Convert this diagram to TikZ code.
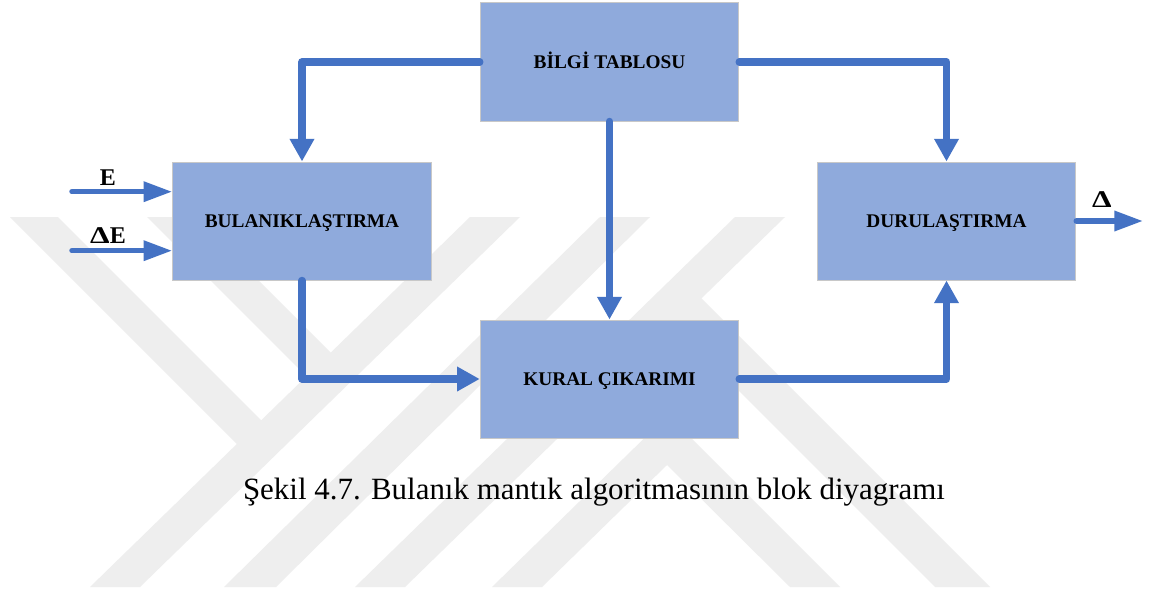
\documentclass[tikz,border=0pt]{standalone}
\usepackage{fontspec}
\usepackage{graphicx}
\setmainfont{Liberation Serif}
\usetikzlibrary{arrows.meta}

\definecolor{boxfill}{RGB}{143,170,220}
\definecolor{boxline}{RGB}{200,200,200}
\definecolor{flow}{RGB}{68,114,196}
\definecolor{wmark}{RGB}{238,238,238}

% a wide capital delta
\newcommand{\wdelta}{\scalebox{1.3}[1]{Δ}}

\begin{document}
\begin{tikzpicture}[x=0.75pt,y=-0.75pt,
  blockbox/.style={draw=boxline, line width=0.75pt, fill=boxfill,
    minimum width=193.9pt, minimum height=88.5pt, inner sep=0pt,
    font=\fontsize{14.5pt}{17pt}\selectfont\bfseries,
    text height=9.6pt, text depth=0pt},
  thickflow/.style={draw=flow, line width=5.6pt, line cap=round, line join=round,
    -{Triangle[length=17pt, width=17.5pt]}},
  thinflow/.style={draw=flow, line width=4.1pt, line cap=round, line join=round,
    -{Triangle[length=21.5pt, width=14.5pt]}},
  siglabel/.style={font=\fontsize{18pt}{21pt}\selectfont\bfseries, inner sep=0pt, anchor=base},
  caption/.style={font=\fontsize{23.2pt}{27pt}\selectfont, inner sep=0pt, anchor=base}
]
\useasboundingbox (0,0) rectangle (1151,592);
\fill[white] (0,0) rectangle (1151,592);

% faint background stripes
\begin{scope}[wmark]
  \fill (90,587) -- (140,587) -- (520,217) -- (470,217) -- cycle;
  \fill (224,587) -- (276,587) -- (650,217) -- (600,217) -- cycle;
  \fill (355,587) -- (405,587) -- (785,217) -- (735,217) -- cycle;
  \fill (10,217) -- (58,217) -- (280,439) -- (256,463) -- cycle;
  \fill (147,217) -- (195,217) -- (348,370) -- (320,390) -- cycle;
  \fill (492,587) -- (668,415) -- (840,587) -- (790,587) -- (667,465) -- (542,587) -- cycle;
  \fill (690,287) -- (990,587) -- (935,587) -- (663,315) -- cycle;
\end{scope}

% blocks
\node[blockbox] (bilgi) at (609.5,62)  {BİLGİ TABLOSU};
\node[blockbox] (bulan) at (302,221)   {BULANIKLAŞTIRMA};
\node[blockbox] (duru)  at (946.5,221) {DURULAŞTIRMA};
\node[blockbox] (kural) at (609.5,379) {KURAL ÇIKARIMI};

% signal flow between blocks
\draw[thickflow] (bilgi.west) -| (bulan.north);
\draw[thickflow] (bilgi.east) -| (duru.north);
\draw[thickflow] (bilgi.south) -- (kural.north);
\draw[thickflow] (bulan.south) |- (kural.west);
\draw[thickflow] (kural.east) -| (duru.south);

% inputs and output
\coordinate (inE)  at (72,191.7);
\coordinate (indE) at (72,250.7);
\coordinate (out)  at (1143,221);
\draw[thinflow] (inE) -- (inE -| bulan.west);
\draw[thinflow] (indE) -- (indE -| bulan.west);
\draw[thinflow] (duru.east) -- (out);

\node[siglabel] (lE)   at (108,185)  {E};
\node[siglabel] (ldE)  at (108,243)  {\wdelta E};
\node[siglabel] (lD)   at (1102,207.5) {\wdelta};

\node[caption] (cap) at (594,499) {Şekil 4.7. Bulanık mantık algoritmasının blok diyagramı};
\end{tikzpicture}
\end{document}
